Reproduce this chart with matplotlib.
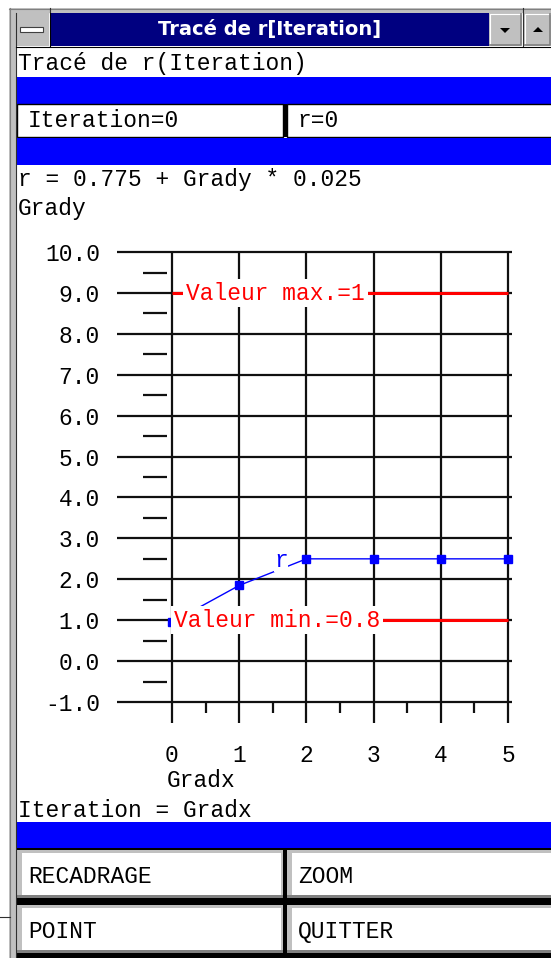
import matplotlib
matplotlib.use("Agg")
import matplotlib.pyplot as plt
from matplotlib.patches import Rectangle, Polygon

# values (Grady units)
iterations = [0, 1, 2, 3, 4, 5]
grady_r = [0.95, 1.85, 2.5, 2.5, 2.5, 2.5]
grady_max = 9.0
grady_min = 1.0
label_max = "Valeur max.=1"
label_min = "Valeur min.=0.8"
y_ticks = [-1, 0, 1, 2, 3, 4, 5, 6, 7, 8, 9, 10]
x_ticks = [0, 1, 2, 3, 4, 5]
y_minor = [v + 0.5 for v in y_ticks[:-1]]
x_minor = [v + 0.5 for v in x_ticks[:-1]]

W, H = 551, 958
NAVY = '#000080'
BLUE = '#0000ff'
GRAY = '#c0c0c0'
DARK = '#808080'
INK = '#101010'

plt.rcParams['font.family'] = ['Liberation Mono', 'DejaVu Sans Mono']
plt.rcParams['font.size'] = 16.5

fig = plt.figure(figsize=(W / 100, H / 100), dpi=100)
fig.patch.set_facecolor('white')

# window chrome drawn in pixel coordinates
bg = fig.add_axes([0, 0, 1, 1])
bg.set_xlim(0, W)
bg.set_ylim(H, 0)
bg.axis('off')


def rect(x0, y0, x1, y1, fc, ec='none', lw=0, z=1):
    bg.add_patch(Rectangle((x0, y0), x1 - x0, y1 - y0, facecolor=fc,
                           edgecolor=ec, linewidth=lw, zorder=z))


def gtext(x, y, s, **kw):
    bg.text(x, y, s, ha='left', va='baseline', color='black', zorder=5, **kw)


# frame
rect(9, 8, W, 13, GRAY)
bg.plot([9, W], [8.5, 8.5], color=DARK, lw=0.8)
rect(9, 8, 16, H, GRAY)
bg.plot([9.5, 9.5], [8, H], color=DARK, lw=0.8)
bg.plot([16, 16], [13, H], color='#303030', lw=0.8)
bg.plot([0, 10], [917, 917], color='#303030', lw=0.8)
bg.plot([49.5, 49.5], [8, 13], color='#303030', lw=0.8)
bg.plot([523, 523], [8, 13], color='#303030', lw=0.8)

# title bar
rect(16, 13, 49, 46, GRAY)
rect(20, 27, 43, 32, 'white', ec='#404040', lw=0.8, z=2)
bg.plot([49.5, 49.5], [13, 46], color='black', lw=0.8)
rect(50, 13, 489, 46, NAVY)
for x0, x1 in [(489, 522), (524, W)]:
    rect(x0, 13, x1, 46, GRAY)
    bg.plot([x0 + 1, x0 + 1, x1 - 1], [45, 14, 14], color='white', lw=0.8)
    bg.plot([x0 + 1, x1 - 1, x1 - 1], [45, 45, 14], color=DARK, lw=1.2)
bg.plot([522.5, 522.5], [13, 46], color='#303030', lw=0.8)
bg.add_patch(Polygon([(500, 28), (510, 28), (505, 33)], closed=True, fc='black', zorder=3))
bg.add_patch(Polygon([(533, 32), (543, 32), (538, 27)], closed=True, fc='black', zorder=3))
bg.plot([16, W], [46.5, 46.5], color='black', lw=0.8)
bg.text(269.5, 29.5, "Tracé de r[Iteration]", color='white', fontweight='bold',
        family='DejaVu Sans', fontsize=14, ha='center', va='center', zorder=5)

# header rows
gtext(18, 70, "Tracé de r(Iteration)")
rect(17, 77, W, 104, BLUE)
rect(17, 104, 283, 137, 'white', ec='black', lw=1)
rect(283, 104, 287, 137, 'black')
rect(287, 104, W + 2, 137, 'white', ec='black', lw=1)
gtext(28, 127, "Iteration=0")
gtext(297, 127, "r=0")
rect(17, 138, W, 165, BLUE)
gtext(18, 186, "r = 0.775 + Grady * 0.025")

# footer rows
gtext(18, 817, "Iteration = Gradx")
rect(17, 822, W, 848, BLUE)
rect(17, 848, W, H, 'black')
for y0, y1, top_txt in [(850, 898, ("RECADRAGE", "ZOOM")), (905, 953, ("POINT", "QUITTER"))]:
    for (x0, x1), s, tx in zip([(17, 283), (287, W + 2)], top_txt, [28, 298]):
        rect(x0, y0, x1, y1, DARK)
        rect(x0, y0, x1, y1 - 3, GRAY)
        rect(x0 + 5, y0 + 3, x1 - 2, y1 - 3, 'white')
        gtext(tx, y1 - 15, s)

# chart axes: x=0 at px 172, 67.2 px per unit; y=-1 at px 702, 40.9 px per unit
x_lo, x_hi = -1.0, 5.6
y_lo, y_hi = -1.9, 10.5
left = 172 + x_lo * 67.2
right = 172 + x_hi * 67.2
top = 702 - (y_hi + 1) * 40.9
bottom = 702 - (y_lo + 1) * 40.9
ax = fig.add_axes([left / W, 1 - bottom / H, (right - left) / W, (bottom - top) / H])
ax.set_xlim(x_lo, x_hi)
ax.set_ylim(y_lo, y_hi)
ax.patch.set_visible(False)
for s in ax.spines.values():
    s.set_visible(False)

ax.hlines(y_ticks, -0.82, 5.06, colors=INK, lw=1.6, zorder=1)
ax.vlines(x_ticks, -1.51, 10, colors=INK, lw=1.6, zorder=1)
ax.hlines(y_minor, -0.43, -0.07, colors=INK, lw=1.6, zorder=1)
ax.vlines(x_minor, -1.27, -1, colors=INK, lw=1.6, zorder=1)

ax.hlines([grady_max, grady_min], 0, 5, colors='red', lw=2.2, zorder=2)
ax.plot(iterations, grady_r, color=BLUE, lw=1.0, marker='s', ms=6, zorder=3)

box = dict(boxstyle='square,pad=0.12', fc='white', ec='none')
ax.text(0.21, grady_max, label_max, color='red', ha='left', va='center', bbox=box, zorder=4)
ax.text(0.03, grady_min, label_min, color='red', ha='left', va='center', bbox=box, zorder=4)
ax.text(1.62, 2.30, "r", color=BLUE, ha='center', va='baseline',
        bbox=dict(boxstyle='square,pad=0', fc='white', ec='none'), zorder=4)

ax.set_yticks(y_ticks, labels=[f"{v:.1f}" for v in y_ticks])
ax.set_xticks(x_ticks, labels=[str(v) for v in x_ticks])
ax.tick_params(axis='y', length=0, pad=3.5)
ax.tick_params(axis='x', length=0, pad=3.7)

ax.set_xlabel("Gradx")
ax.xaxis.set_label_coords(167, 787, transform=bg.transData)
ax.xaxis.label.set(ha='left', va='baseline')
ax.set_ylabel("Grady", rotation=0)
ax.yaxis.set_label_coords(18, 215, transform=bg.transData)
ax.yaxis.label.set(ha='left', va='baseline')

fig.savefig("out.png", dpi=100, facecolor='white')
